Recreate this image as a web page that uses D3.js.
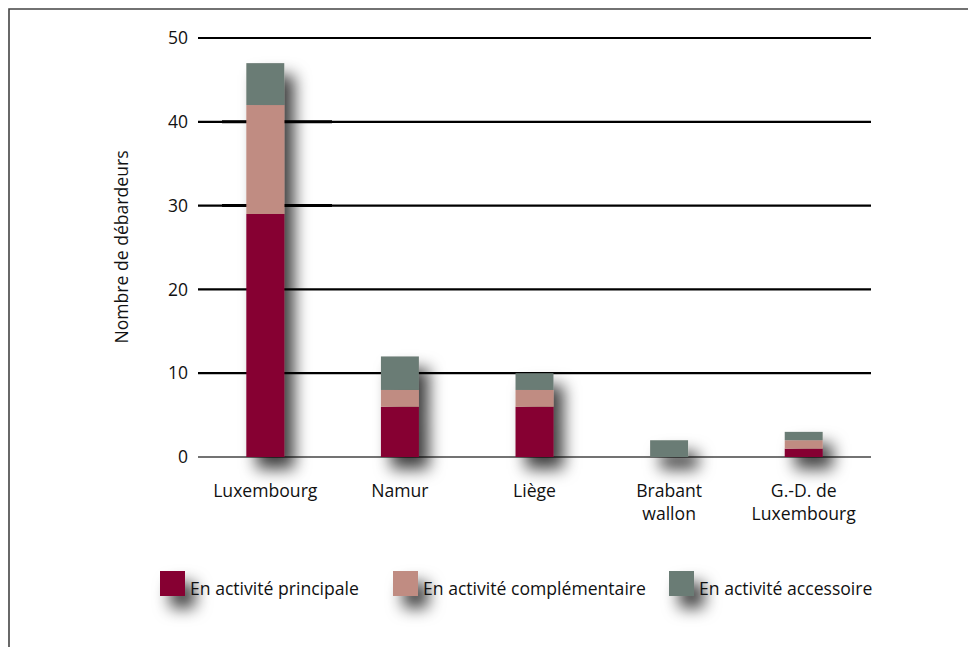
<!DOCTYPE html>
<html><head><meta charset="utf-8">
<script src="https://cdn.jsdelivr.net/npm/d3@7"></script>
<style>
html,body{margin:0;padding:0;background:#fff;}
svg{display:block;}
text{font-family:"Open Sans",sans-serif;fill:#111;}
</style></head>
<body>
<script>
const categories = ["Luxembourg", "Namur", "Liège", "Brabant\nwallon", "G.-D. de\nLuxembourg"];
const seriesNames = ["En activité principale", "En activité complémentaire", "En activité accessoire"];
const principale = [29, 6, 6, 0, 1];
const complementaire = [13, 2, 2, 0, 1];
const accessoire = [5, 4, 2, 2, 1];
const yTicks = [0, 10, 20, 30, 40, 50];
const colors = ["#860033", "#c08c82", "#6b7b74"];

const W = 968, H = 647;
const svg = d3.select("body").append("svg").attr("width", W).attr("height", H);

const defs = svg.append("defs");
const f = defs.append("filter").attr("id", "sh").attr("x", "-150%").attr("y", "-150%").attr("width", "400%").attr("height", "400%");
f.append("feDropShadow").attr("dx", 10).attr("dy", 12).attr("stdDeviation", 8)
  .attr("flood-color", "#000").attr("flood-opacity", 0.75);

// frame
svg.append("path").attr("d", `M9,${H} V9 H${W}`).attr("fill", "none").attr("stroke", "#444").attr("stroke-width", 1.6);

const x = d3.scaleBand().domain(categories).range([198, 871]).paddingInner(0.718).paddingOuter(0.359);
const y = d3.scaleLinear().domain([0, 50]).range([457, 38]);

// grid
const grid = svg.append("g");
grid.selectAll("line").data(yTicks).join("line")
  .attr("x1", 198).attr("x2", 871)
  .attr("y1", d => y(d)).attr("y2", d => y(d))
  .attr("stroke", d => d === 0 ? "#444" : "#000")
  .attr("stroke-width", d => d === 0 ? 1.5 : 2.2);
grid.selectAll("line.art").data([30, 40]).join("line").attr("class", "art")
  .attr("x1", 222).attr("x2", 332)
  .attr("y1", d => y(d)).attr("y2", d => y(d))
  .attr("stroke", "#000").attr("stroke-width", 3);

// y labels
svg.append("g").selectAll("text").data(yTicks).join("text")
  .attr("x", 188).attr("y", d => y(d)).attr("dy", "0.35em")
  .attr("text-anchor", "end").attr("font-size", 17.5).text(d => d);

svg.append("text").attr("transform", "translate(128,247) rotate(-90)")
  .attr("text-anchor", "middle").attr("font-size", 17.6).text("Nombre de débardeurs");

// stacked bars
const rows = categories.map((c, i) => ({cat: c, s0: principale[i], s1: complementaire[i], s2: accessoire[i]}));
const stack = d3.stack().keys(["s0", "s1", "s2"])(rows);
const groups = svg.append("g").selectAll("g.bar").data(rows).join("g").attr("class", "bar").attr("filter", "url(#sh)");
groups.each(function(d, i) {
  const g = d3.select(this);
  stack.forEach((layer, k) => {
    const v = layer[i];
    if (v[1] - v[0] > 0) {
      g.append("rect").attr("x", x(d.cat)).attr("width", x.bandwidth())
        .attr("y", y(v[1])).attr("height", y(v[0]) - y(v[1])).attr("fill", colors[k]);
    }
  });
});

// x labels
const xl = svg.append("g").selectAll("text").data(categories).join("text")
  .attr("x", d => x(d) + x.bandwidth() / 2).attr("y", 497)
  .attr("text-anchor", "middle").attr("font-size", 17.6);
xl.each(function(d) {
  const t = d3.select(this);
  d.split("\n").forEach((line, j) => {
    t.append("tspan").attr("x", x(d) + x.bandwidth() / 2).attr("dy", j === 0 ? 0 : 23).text(line);
  });
});

// legend
const legX = [160, 393, 669];
const leg = svg.append("g").selectAll("g").data(seriesNames).join("g")
  .attr("transform", (d, i) => `translate(${legX[i]},571)`);
leg.append("rect").attr("width", 25).attr("height", 25).attr("fill", (d, i) => colors[i]).attr("filter", "url(#sh)");
leg.append("text").attr("x", 30).attr("y", 24).attr("font-size", 17.6).text(d => d);
</script>
</body></html>
